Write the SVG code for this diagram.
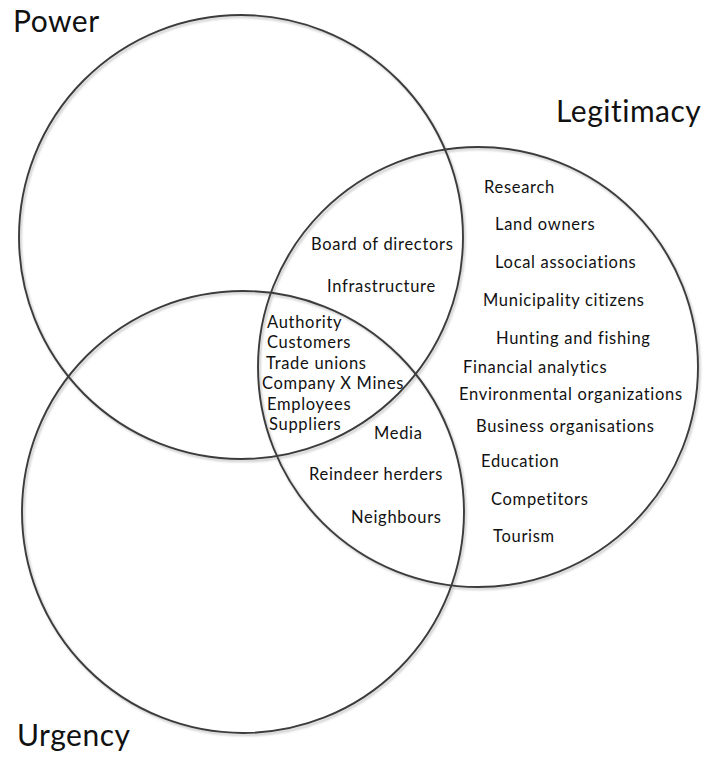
<svg xmlns="http://www.w3.org/2000/svg" width="710" height="758" viewBox="0 0 710 758">
<defs>
<filter id="soft" x="-10%" y="-10%" width="120%" height="120%"><feGaussianBlur stdDeviation="1"/></filter>
</defs>
<style>
.ring{fill:none;stroke:#3c3c3c;stroke-width:1.9}
.shadow{fill:none;stroke:#c8c8c8;stroke-width:2.2;filter:url(#soft)}
.big{font-family:Lato,"Liberation Sans",sans-serif;font-size:30px;letter-spacing:0.5px;fill:#111}
.item{font-family:Lato,"Liberation Sans",sans-serif;font-size:16.5px;letter-spacing:0.7px;fill:#111}
</style>
<rect width="710" height="758" fill="#fff"/>
<g id="shadows">
<circle class="shadow" cx="242.5" cy="239" r="222"/>
<circle class="shadow" cx="479.5" cy="369" r="220"/>
<circle class="shadow" cx="244.5" cy="514" r="221"/>
</g>
<g id="power">
<circle class="ring" cx="241" cy="237" r="222"/>
<text class="big" x="13" y="32">Power</text>
</g>
<g id="legitimacy">
<circle class="ring" cx="478" cy="367" r="220"/>
<text class="big" x="556" y="122">Legitimacy</text>
</g>
<g id="urgency">
<circle class="ring" cx="243" cy="512" r="221"/>
<text class="big" x="17" y="746">Urgency</text>
</g>
<g id="power-legitimacy">
<text class="item" x="311" y="250">Board of directors</text>
<text class="item" x="327" y="292">Infrastructure</text>
</g>
<g id="all-three">
<text class="item" x="267" y="328">Authority</text>
<text class="item" x="267" y="348">Customers</text>
<text class="item" x="266" y="369">Trade unions</text>
<text class="item" x="262" y="389" letter-spacing="0.2">Company X Mines</text>
<text class="item" x="267" y="410">Employees</text>
<text class="item" x="269" y="430">Suppliers</text>
</g>
<g id="legitimacy-urgency">
<text class="item" x="374" y="439">Media</text>
<text class="item" x="309" y="480">Reindeer herders</text>
<text class="item" x="351" y="523">Neighbours</text>
</g>
<g id="legitimacy-only">
<text class="item" x="484" y="193">Research</text>
<text class="item" x="495" y="230">Land owners</text>
<text class="item" x="495" y="268">Local associations</text>
<text class="item" x="483" y="306">Municipality citizens</text>
<text class="item" x="496" y="344">Hunting and fishing</text>
<text class="item" x="463" y="373">Financial analytics</text>
<text class="item" x="459" y="400">Environmental organizations</text>
<text class="item" x="476" y="432">Business organisations</text>
<text class="item" x="481" y="467">Education</text>
<text class="item" x="491" y="505">Competitors</text>
<text class="item" x="493" y="542">Tourism</text>
</g>
</svg>
